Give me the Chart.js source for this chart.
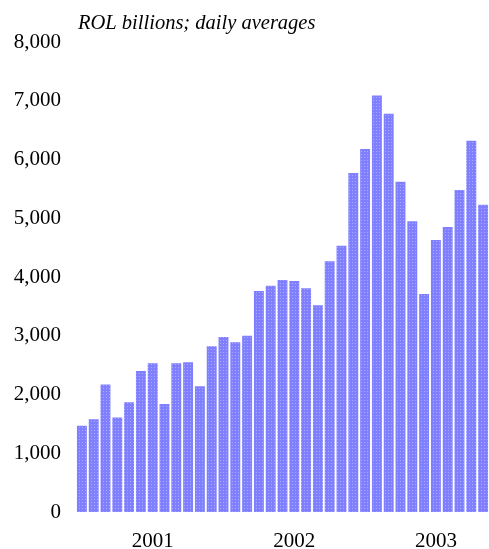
<!DOCTYPE html>
<html>
<head>
<meta charset="utf-8">
<script src="https://cdn.jsdelivr.net/npm/chart.js@4/dist/chart.umd.min.js"></script>
<style>
  html, body { margin: 0; padding: 0; background: #ffffff; }
  #wrap { width: 489px; height: 549px; position: relative; }
</style>
</head>
<body>
<div id="wrap"><canvas id="c" width="489" height="549"></canvas></div>
<script>
// ---- data ----
const months = [
  'Jan 2001','Feb 2001','Mar 2001','Apr 2001','May 2001','Jun 2001','Jul 2001','Aug 2001','Sep 2001','Oct 2001','Nov 2001','Dec 2001',
  'Jan 2002','Feb 2002','Mar 2002','Apr 2002','May 2002','Jun 2002','Jul 2002','Aug 2002','Sep 2002','Oct 2002','Nov 2002','Dec 2002',
  'Jan 2003','Feb 2003','Mar 2003','Apr 2003','May 2003','Jun 2003','Jul 2003','Aug 2003','Sep 2003','Oct 2003','Nov 2003'
];
const values = [
  1470, 1580, 2170, 1610, 1870, 2400, 2530, 1840, 2530, 2550, 2140, 2820,
  2980, 2890, 3000, 3760, 3850, 3950, 3930, 3810, 3520, 4270, 4530, 5770,
  6180, 7090, 6780, 5620, 4950, 3710, 4630, 4850, 5480, 6320, 5230
];
const yearLabels = ['2001', '2002', '2003'];
const yTicks = [0, 1000, 2000, 3000, 4000, 5000, 6000, 7000, 8000];
const titleText = 'ROL billions; daily averages';

// ---- dotted bar fill ----
function makePattern() {
  const p = document.createElement('canvas');
  p.width = 3; p.height = 3;
  const g = p.getContext('2d');
  g.fillStyle = '#7f7fff';
  g.fillRect(0, 0, 3, 3);
  g.fillStyle = '#a9a9ff';
  g.fillRect(1, 1, 1, 1);
  return g.createPattern(p, 'repeat');
}

const serif = '"Liberation Serif", "Times New Roman", serif';

const titlePlugin = {
  id: 'topTitle',
  afterDraw(chart) {
    const ctx = chart.ctx;
    ctx.save();
    ctx.font = 'italic 20.5px ' + serif;
    ctx.fillStyle = '#000';
    ctx.textAlign = 'left';
    ctx.textBaseline = 'alphabetic';
    ctx.fillText(titleText, 78, 29);
    ctx.restore();
  }
};

new Chart(document.getElementById('c'), {
  type: 'bar',
  data: {
    labels: months,
    datasets: [{
      data: values,
      backgroundColor: makePattern(),
      borderWidth: 0,
      barPercentage: 1.0,
      categoryPercentage: 0.84
    }]
  },
  options: {
    responsive: false,
    animation: false,
    devicePixelRatio: 1,
    layout: { padding: { top: 42, right: 0, bottom: 0, left: 0 } },
    plugins: { legend: { display: false }, tooltip: { enabled: false }, title: { display: false } },
    scales: {
      x: {
        grid: { display: false, drawTicks: true, tickLength: 17 },
        border: { display: false },
        afterFit(s) { s.height = 37; },
        ticks: {
          autoSkip: false,
          maxRotation: 0,
          minRotation: 0,
          padding: 0,
          color: '#000',
          font: { family: serif, size: 21 },
          callback(v, i) {
            const m = months[i];
            if (m && m.startsWith('Jul')) {
              const y = m.slice(4);
              return yearLabels.includes(y) ? y : '';
            }
            return '';
          }
        }
      },
      y: {
        min: 0,
        max: 8000,
        afterFit(s) { s.width = 76; },
        afterBuildTicks(s) { s.ticks = yTicks.map(v => ({ value: v })); },
        grid: { display: false, drawTicks: true, tickLength: 15 },
        border: { display: false },
        ticks: {
          padding: 0,
          color: '#000',
          font: { family: serif, size: 21 },
          callback(v) { return Number(v).toLocaleString('en-US'); }
        }
      }
    }
  },
  plugins: [titlePlugin]
});
</script>
</body>
</html>
